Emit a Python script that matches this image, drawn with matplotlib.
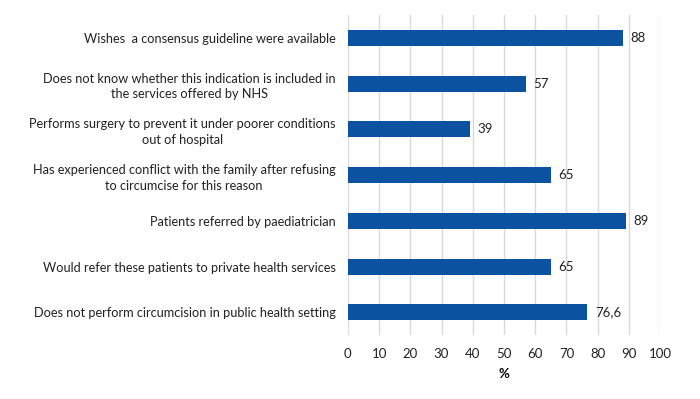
import matplotlib.pyplot as plt

# data, top to bottom as shown in the chart
labels = ['Wishes  a consensus guideline were available',
          'Does not know whether this indication is included in\nthe services offered by NHS',
          'Performs surgery to prevent it under poorer conditions\nout of hospital',
          'Has experienced conflict with the family after refusing\nto circumcise for this reason',
          'Patients referred by paediatrician',
          'Would refer these patients to private health services',
          'Does not perform circumcision in public health setting']
values = [88, 57, 39, 65, 89, 65, 76.6]
value_text = ['88', '57', '39', '65', '89', '65', '76,6']

plt.rcParams['font.family'] = ['Lato', 'DejaVu Sans']

fig = plt.figure(figsize=(7, 3.99), dpi=100)
ax = fig.add_axes([0.497, 0.16, 0.446, 0.802])

pos = list(range(len(labels)))[::-1]
ax.barh(pos, values, height=0.35, color='#0B52A1', zorder=3)

for p, v, t in zip(pos, values, value_text):
    ax.text(v + 2.5, p, t, va='center', ha='left', fontsize=9.5, color='#222222')

ax.set_xlim(0, 100)
ax.set_ylim(-0.5, 6.5)
ax.set_xticks(range(0, 101, 10))
ax.set_yticks(pos)
ax.set_yticklabels(labels, fontsize=9.2, multialignment='center',
                   linespacing=1.35, color='#222222')
ax.tick_params(axis='both', length=0, labelsize=9.5, colors='#222222')
ax.tick_params(axis='y', pad=9, labelsize=9.2)
ax.tick_params(axis='x', pad=9)
ax.grid(axis='x', color='#D9D9D9', linewidth=1, zorder=0)
for s in ax.spines.values():
    s.set_visible(False)
ax.set_xlabel('%', fontsize=9.5, fontweight='bold', labelpad=6)

fig.savefig('out.png', dpi=100)
